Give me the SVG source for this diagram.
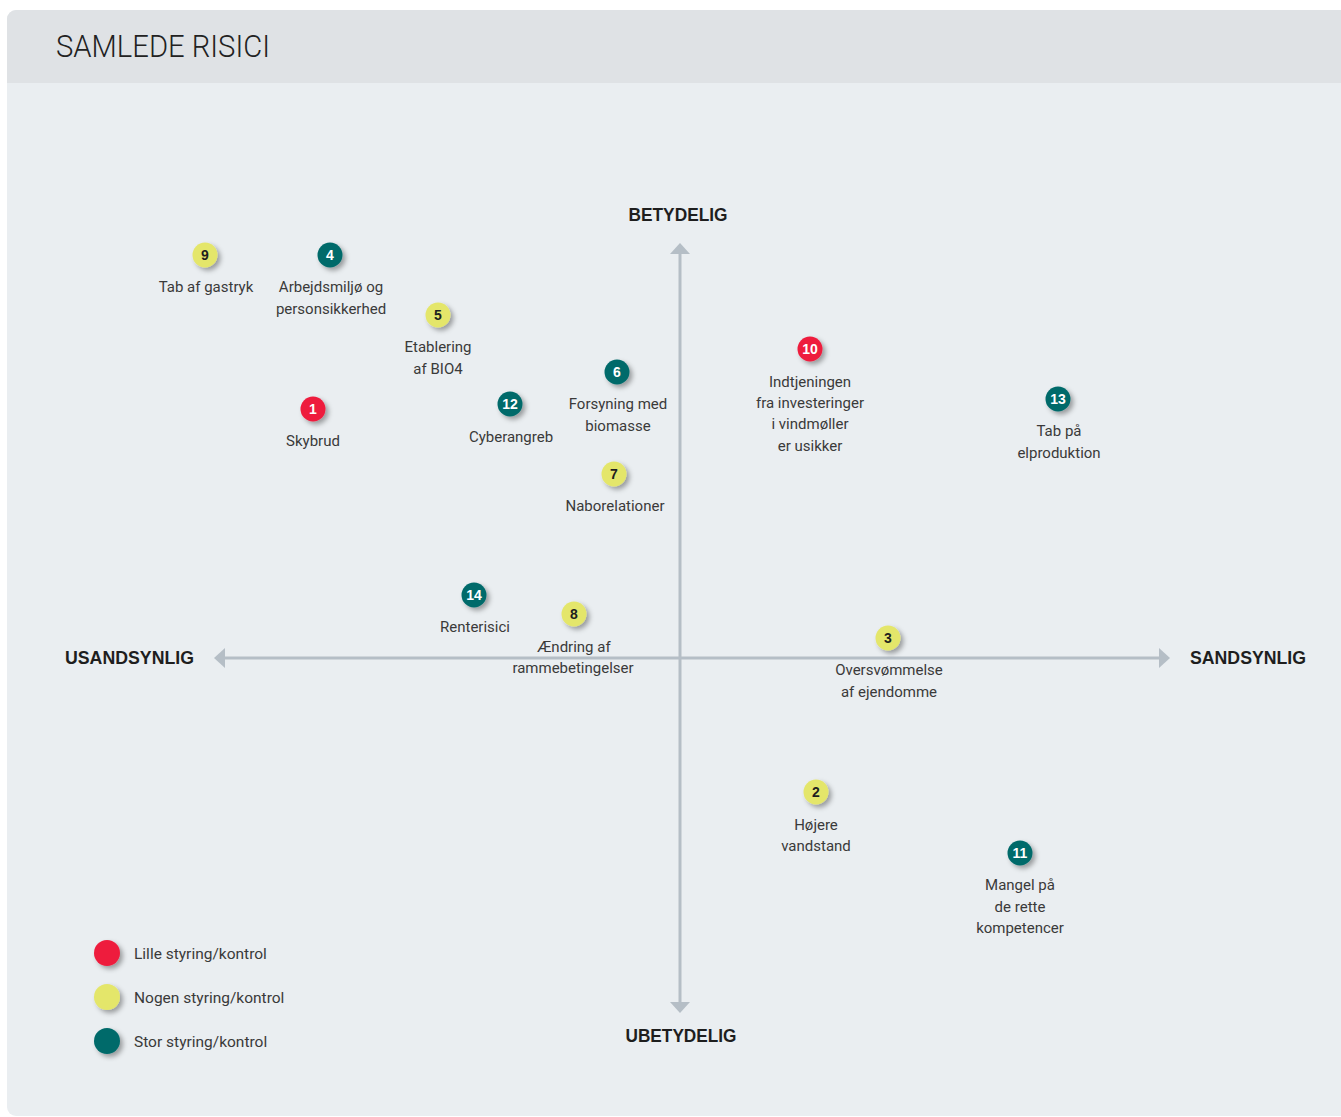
<svg xmlns="http://www.w3.org/2000/svg" width="1341" height="1117" viewBox="0 0 1341 1117">
<defs>
<filter id="sh" x="-60%" y="-60%" width="250%" height="250%">
<feDropShadow dx="3" dy="3" stdDeviation="2.5" flood-color="#000" flood-opacity="0.35"/>
</filter>
<clipPath id="panel"><rect x="7" y="10" width="1350" height="1106" rx="9"/></clipPath>
</defs>
<style>
.lbl{font-family:Roboto,"Liberation Sans",sans-serif;font-size:15px;fill:#3a3a3a;text-anchor:middle}
.num{font-family:"Liberation Sans",Roboto,sans-serif;font-size:14px;font-weight:bold;text-anchor:middle}
.axl{font-family:"Liberation Sans",Roboto,sans-serif;font-size:18px;font-weight:bold;fill:#1e1e1e;text-anchor:middle}
.leg{font-family:Roboto,"Liberation Sans",sans-serif;font-size:15.5px;fill:#3a3a3a}
.red{fill:#ee1b3c}
.yel{fill:#e4e66b}
.teal{fill:#006a6b}
.w{fill:#fff}
.d{fill:#1e1e1e}
.ax{stroke:#b5bec6;stroke-width:3;fill:none}
.ah{fill:#b5bec6}
</style>
<rect width="1341" height="1117" fill="#fff"/>
<g clip-path="url(#panel)">
<rect x="7" y="10" width="1350" height="1106" fill="#eaeef1"/>
<rect x="7" y="10" width="1350" height="73" fill="#dfe2e5"/>
</g>
<text x="56" y="57" font-family="Roboto,'Liberation Sans',sans-serif" font-weight="300" font-size="31" fill="#222" textLength="214" lengthAdjust="spacingAndGlyphs">SAMLEDE RISICI</text>

<g id="axes">
<line class="ax" x1="224" y1="658" x2="1161" y2="658"/>
<line class="ax" x1="680" y1="253" x2="680" y2="1003"/>
<polygon class="ah" points="214,658 225,648 225,668"/>
<polygon class="ah" points="1170,658 1159,648 1159,668"/>
<polygon class="ah" points="680,243 670,254 690,254"/>
<polygon class="ah" points="680,1013 670,1002 690,1002"/>
<text class="axl" x="678" y="221" textLength="99" lengthAdjust="spacingAndGlyphs">BETYDELIG</text>
<text class="axl" x="681" y="1042" textLength="111" lengthAdjust="spacingAndGlyphs">UBETYDELIG</text>
<text class="axl" x="129.5" y="664" textLength="129" lengthAdjust="spacingAndGlyphs">USANDSYNLIG</text>
<text class="axl" x="1248" y="664" textLength="116" lengthAdjust="spacingAndGlyphs">SANDSYNLIG</text>
</g>

<g id="n1"><circle class="red" cx="313" cy="409" r="12.5" filter="url(#sh)"/><text class="num w" x="313" y="414">1</text><text class="lbl" x="313" y="446">Skybrud</text></g>
<g id="n2"><circle class="yel" cx="816" cy="792" r="12.5" filter="url(#sh)"/><text class="num d" x="816" y="797">2</text><text class="lbl" x="816" y="830">Højere</text><text class="lbl" x="816" y="851">vandstand</text></g>
<g id="n3"><circle class="yel" cx="888" cy="638" r="12.5" filter="url(#sh)"/><text class="num d" x="888" y="643">3</text><text class="lbl" x="889" y="675">Oversvømmelse</text><text class="lbl" x="889" y="697">af ejendomme</text></g>
<g id="n4"><circle class="teal" cx="330" cy="255" r="12.5" filter="url(#sh)"/><text class="num w" x="330" y="260">4</text><text class="lbl" x="331" y="292">Arbejdsmiljø og</text><text class="lbl" x="331" y="314">personsikkerhed</text></g>
<g id="n5"><circle class="yel" cx="438" cy="315" r="12.5" filter="url(#sh)"/><text class="num d" x="438" y="320">5</text><text class="lbl" x="438" y="352">Etablering</text><text class="lbl" x="438" y="374">af BIO4</text></g>
<g id="n6"><circle class="teal" cx="617" cy="372" r="12.5" filter="url(#sh)"/><text class="num w" x="617" y="377">6</text><text class="lbl" x="618" y="409">Forsyning med</text><text class="lbl" x="618" y="431">biomasse</text></g>
<g id="n7"><circle class="yel" cx="614" cy="474" r="12.5" filter="url(#sh)"/><text class="num d" x="614" y="479">7</text><text class="lbl" x="615" y="511">Naborelationer</text></g>
<g id="n8"><circle class="yel" cx="574" cy="614" r="12.5" filter="url(#sh)"/><text class="num d" x="574" y="619">8</text><text class="lbl" x="574" y="652">Ændring af</text><text class="lbl" x="573" y="673">rammebetingelser</text></g>
<g id="n9"><circle class="yel" cx="205" cy="255" r="12.5" filter="url(#sh)"/><text class="num d" x="205" y="260">9</text><text class="lbl" x="206" y="292">Tab af gastryk</text></g>
<g id="n10"><circle class="red" cx="810" cy="349" r="12.5" filter="url(#sh)"/><text class="num w" x="810" y="354">10</text><text class="lbl" x="810" y="387">Indtjeningen</text><text class="lbl" x="810" y="408">fra investeringer</text><text class="lbl" x="810" y="429">i vindmøller</text><text class="lbl" x="810" y="451">er usikker</text></g>
<g id="n11"><circle class="teal" cx="1020" cy="853" r="12.5" filter="url(#sh)"/><text class="num w" x="1020" y="858">11</text><text class="lbl" x="1020" y="890">Mangel på</text><text class="lbl" x="1020" y="912">de rette</text><text class="lbl" x="1020" y="933">kompetencer</text></g>
<g id="n12"><circle class="teal" cx="510" cy="404" r="12.5" filter="url(#sh)"/><text class="num w" x="510" y="409">12</text><text class="lbl" x="511" y="442">Cyberangreb</text></g>
<g id="n13"><circle class="teal" cx="1058" cy="399" r="12.5" filter="url(#sh)"/><text class="num w" x="1058" y="404">13</text><text class="lbl" x="1059" y="436">Tab på</text><text class="lbl" x="1059" y="458">elproduktion</text></g>
<g id="n14"><circle class="teal" cx="474" cy="595" r="12.5" filter="url(#sh)"/><text class="num w" x="474" y="600">14</text><text class="lbl" x="475" y="632">Renterisici</text></g>

<g id="legend">
<circle class="red" cx="107" cy="953" r="13" filter="url(#sh)"/><text class="leg" x="134" y="959">Lille styring/kontrol</text>
<circle class="yel" cx="107" cy="997" r="13" filter="url(#sh)"/><text class="leg" x="134" y="1003">Nogen styring/kontrol</text>
<circle class="teal" cx="107" cy="1041" r="13" filter="url(#sh)"/><text class="leg" x="134" y="1047">Stor styring/kontrol</text>
</g>
</svg>
